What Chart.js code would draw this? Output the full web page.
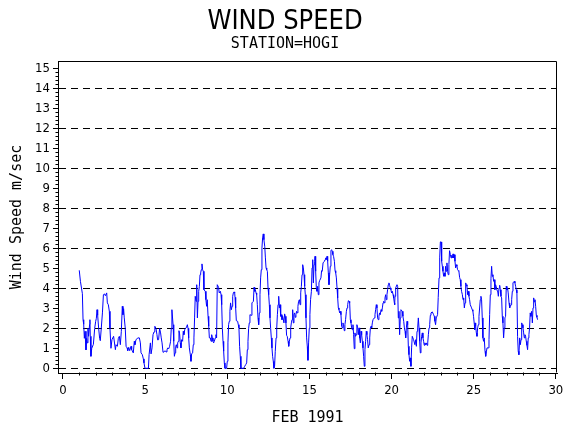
<!DOCTYPE html>
<html>
<head>
<meta charset="utf-8">
<title>Wind Speed - HOGI</title>
<script src="https://cdn.jsdelivr.net/npm/chart.js@4.4.1/dist/chart.umd.min.js"></script>
<style>
  html, body { margin: 0; padding: 0; background: #fff; }
</style>
</head>
<body>
<canvas id="myChart" width="570" height="430"></canvas>
<script>
// day of month (fractional, hourly readings) for February 1991
const febDay = [
  0.99, 1.06, 1.18, 1.22, 1.26, 1.30, 1.34, 1.40, 1.44, 1.48,
  1.52, 1.56, 1.62, 1.64, 1.66, 1.70, 1.75, 1.85, 1.93, 1.99,
  2.03, 2.07, 2.11, 2.17, 2.23, 2.27, 2.33, 2.40, 2.46, 2.52,
  2.58, 2.66, 2.70, 2.76, 2.82, 2.86, 2.92, 2.98, 3.08, 3.19,
  3.23, 3.31, 3.37, 3.43, 3.49, 3.55, 3.61, 3.65, 3.69, 3.73,
  3.79, 3.84, 3.90, 3.94, 4.00, 4.06, 4.14, 4.18, 4.28, 4.34,
  4.38, 4.44, 4.55, 4.65, 4.71, 4.75, 4.83, 4.89, 4.93, 4.99,
  5.20, 5.24, 5.32, 5.36, 5.42, 5.48, 5.54, 5.58,
  5.60, 5.66, 5.72, 5.76, 5.82, 5.88, 5.94, 5.98, 6.03, 6.09,
  6.15, 6.21, 6.27, 6.33, 6.37, 6.43, 6.49, 6.55, 6.59, 6.63,
  6.70, 6.74, 6.78, 6.82, 6.86, 6.90, 6.94, 6.98, 7.02, 7.06,
  7.10, 7.14, 7.18, 7.22, 7.28, 7.32, 7.36, 7.41, 7.45, 7.51,
  7.57, 7.61, 7.65, 7.69, 7.75, 7.79, 7.83, 7.89, 7.93, 7.97,
  8.01, 8.05, 8.10, 8.14, 8.18, 8.22, 8.26, 8.30, 8.34, 8.38,
  8.42, 8.46, 8.50, 8.54, 8.58, 8.66, 8.70, 8.74, 8.78, 8.83,
  8.87, 8.91, 8.97, 9.01, 9.05, 9.09, 9.13, 9.17, 9.21, 9.27,
  9.31, 9.35, 9.39, 9.43, 9.47, 9.51, 9.58, 9.62, 9.66, 9.70,
  9.74, 9.78, 9.82, 9.86, 9.96, 10.00, 10.04, 10.08, 10.12, 10.16,
  10.20, 10.25, 10.29, 10.33, 10.37, 10.41, 10.45,
  10.47, 10.51, 10.55, 10.63, 10.67, 10.71, 10.75, 10.79, 10.83, 11.00,
  11.06, 11.12, 11.18, 11.22, 11.26, 11.30, 11.34, 11.38, 11.46, 11.50,
  11.59, 11.63, 11.67, 11.71, 11.75, 11.79, 11.83, 11.87, 11.91, 11.95,
  11.99, 12.03, 12.07, 12.11, 12.15, 12.19, 12.23, 12.28, 12.32, 12.36,
  12.40, 12.44, 12.48, 12.52, 12.56, 12.60, 12.64, 12.68, 12.72, 12.76,
  12.80, 12.84, 12.88, 12.92, 12.97, 13.01, 13.05, 13.09, 13.13, 13.17,
  13.21, 13.25, 13.29, 13.33, 13.37, 13.45, 13.49, 13.53, 13.57, 13.61,
  13.65, 13.70, 13.74, 13.78, 13.82, 13.86, 13.90, 13.94, 13.98, 14.02,
  14.06, 14.10, 14.14, 14.18, 14.22, 14.26, 14.30, 14.34, 14.39, 14.43,
  14.47, 14.51, 14.55, 14.59, 14.63, 14.67, 14.71, 14.75, 14.79, 14.83,
  14.87, 14.91, 14.95, 14.99, 15.03, 15.07, 15.12, 15.16, 15.20, 15.24,
  15.28, 15.32,
  15.34, 15.38, 15.42, 15.46, 15.50, 15.54, 15.58, 15.62, 15.70, 15.74,
  15.78, 15.83, 15.91, 15.95, 15.99, 16.03, 16.07, 16.11, 16.15, 16.19,
  16.23, 16.27, 16.31, 16.35, 16.39, 16.43, 16.47, 16.52, 16.56, 16.60,
  16.64, 16.68, 16.72, 16.76, 16.80, 16.84, 16.88, 16.92, 16.96, 17.00,
  17.04, 17.08, 17.12, 17.16, 17.20, 17.25, 17.29, 17.33, 17.37, 17.41,
  17.45, 17.49, 17.53, 17.57, 17.61, 17.65, 17.69, 17.73, 17.77, 17.81,
  17.85, 17.89, 17.94, 17.98, 18.02, 18.06, 18.10, 18.14, 18.18, 18.22,
  18.26, 18.30, 18.34, 18.38, 18.42, 18.46, 18.50, 18.54, 18.58, 18.63,
  18.67, 18.71, 18.75, 18.79, 18.83, 18.87, 18.95, 18.99, 19.03, 19.07,
  19.11, 19.15, 19.19, 19.23, 19.27, 19.31, 19.36, 19.40, 19.44, 19.48,
  19.52, 19.56, 19.60, 19.64, 19.68, 19.72, 19.76, 19.80, 19.84, 19.88,
  19.92, 19.96, 20.00, 20.05, 20.09, 20.13, 20.17, 20.19,
  20.21, 20.25, 20.33, 20.37, 20.41, 20.45, 20.49, 20.53, 20.57, 20.65,
  20.69, 20.74, 20.78, 20.82, 20.86, 20.90, 20.94, 20.98, 21.02, 21.06,
  21.10, 21.14, 21.18, 21.22, 21.26, 21.34, 21.42, 21.47, 21.51, 21.55,
  21.59, 21.63, 21.67, 21.71, 21.75, 21.79, 21.83, 21.87, 21.91, 21.95,
  21.99, 22.03, 22.07, 22.11, 22.16, 22.20, 22.24, 22.28, 22.32, 22.36,
  22.40, 22.48, 22.56, 22.60, 22.64, 22.68, 22.72, 22.80, 22.84, 22.89,
  22.93, 22.97, 23.01, 23.05, 23.09, 23.13, 23.17, 23.21, 23.25, 23.29,
  23.33, 23.37, 23.41, 23.45, 23.49, 23.53, 23.58, 23.62, 23.66, 23.70,
  23.74, 23.78, 23.82, 23.86, 23.90, 23.94, 23.98, 24.02, 24.06, 24.10,
  24.14, 24.18, 24.22, 24.26, 24.31, 24.35, 24.39, 24.43, 24.47, 24.51,
  24.55, 24.59, 24.63, 24.67, 24.71, 24.75, 24.79, 24.87, 24.91, 24.95,
  24.99, 25.04, 25.06,
  25.08, 25.12, 25.16, 25.20, 25.24, 25.28, 25.32, 25.40, 25.44, 25.48,
  25.52, 25.56, 25.60, 25.64, 25.69, 25.73, 25.77, 25.81, 25.89, 25.93,
  25.97, 26.01, 26.05, 26.09, 26.13, 26.17, 26.21, 26.25, 26.29, 26.33,
  26.37, 26.42, 26.46, 26.50, 26.54, 26.58, 26.62, 26.66, 26.70, 26.74,
  26.78, 26.82, 26.86, 26.90, 26.94, 26.98, 27.02, 27.06, 27.10, 27.15,
  27.19, 27.23, 27.27, 27.31, 27.35, 27.39, 27.47, 27.51, 27.55, 27.59,
  27.63, 27.67, 27.71, 27.75, 27.80, 27.84, 27.88, 27.92, 27.96, 28.00,
  28.04, 28.08, 28.12, 28.16, 28.20, 28.24, 28.28, 28.32, 28.36, 28.40,
  28.44, 28.48, 28.53, 28.57, 28.61, 28.65, 28.69, 28.73, 28.77, 28.81,
  28.85, 28.89
];

// wind speed in m/sec, same order as febDay
const windSpeed = [
  4.9, 4.35, 3.73, 2.43, 2.2, 1.5, 1.85, 0.92, 1.5, 1.27,
  2.0, 1.6, 2.2, 2.43, 1.6, 0.6, 1.0, 1.2, 2.0, 2.35,
  2.5, 2.93, 2.65, 2.0, 1.5, 1.38, 2.0, 2.77, 3.68, 3.72,
  3.63, 3.77, 3.27, 3.18, 2.85, 2.0, 1.0, 1.43, 1.6, 0.93,
  1.18, 1.1, 1.5, 1.6, 1.18, 1.85, 3.1, 2.68, 2.98, 2.52,
  2.0, 1.1, 1.02, 0.88, 1.05, 0.88, 1.1, 0.93, 0.77, 1.35,
  1.18, 1.42, 1.52, 1.52, 1.27, 0.77, 0.68, 0.47, 0.27, 0,
  0, 0.68, 1.27, 0.72, 1.02, 1.68, 1.82, 2.0,
  2.1, 2.0, 1.68, 1.42, 1.43, 2.0, 1.77, 1.52, 1.27, 0.8,
  0.82, 0.88, 0.82, 0.92, 1.02, 0.97, 1.1, 1.35, 2.0, 2.93,
  2.18, 1.35, 0.6, 0.77, 1.1, 1.18, 1.02, 1.27, 1.35, 1.88,
  1.72, 1.27, 1.02, 1.43, 1.35, 1.85, 1.68, 1.93, 2.0, 2.03,
  2.18, 2.0, 1.52, 1.02, 0.68, 0.35, 0.72, 0.77, 1.18, 1.52,
  2.52, 3.6, 3.35, 4.18, 2.52, 3.35, 3.85, 4.1, 4.68, 4.77,
  4.93, 5.22, 4.93, 4.85, 3.93, 3.85, 3.43, 3.1, 3.43, 2.6,
  2.1, 1.52, 1.52, 1.35, 1.68, 1.52, 1.35, 1.27, 1.35, 1.52,
  1.68, 1.52, 4.18, 4.18, 4.05, 3.77, 3.85, 3.68, 3.18, 2.0,
  1.35, 0.85, 0.27, 0, 0, 0.35, 1.27, 2.18, 2.35, 2.85,
  3.27, 2.93, 3.1, 3.6, 3.77, 3.82, 3.77,
  3.55, 3.02, 2.38, 2.35, 2.18, 2.02, 1.1, 0.6, 0, 0,
  0.1, 0.18, 0.27, 0.93, 1.35, 2.0, 2.27, 2.68, 2.65, 3.27,
  3.35, 4.05, 3.85, 3.93, 3.77, 3.68, 3.18, 2.52, 2.18, 2.77,
  3.68, 4.52, 4.93, 6.02, 6.52, 6.72, 6.43, 6.1, 5.52, 5.02,
  4.93, 4.85, 4.02, 3.68, 3.18, 2.52, 2.0, 1.52, 1.02, 0.6,
  0.35, 0, 0.1, 0.85, 1.52, 2.0, 2.68, 3.18, 3.6, 3.02,
  3.18, 2.6, 2.68, 2.43, 2.6, 2.27, 2.72, 2.6, 2.27, 1.65,
  1.6, 1.35, 1.1, 1.35, 1.52, 2.02, 2.27, 2.43, 2.93, 2.27,
  2.68, 2.77, 2.55, 2.68, 2.85, 2.77, 3.1, 3.35, 3.43, 3.18,
  3.77, 4.1, 4.68, 5.18, 5.02, 4.68, 4.1, 3.68, 2.52, 1.52,
  1.1, 0.4, 1.27, 2.0, 2.68, 3.43, 3.85, 5.02, 5.43, 4.27,
  5.18, 5.35,
  5.6, 4.85, 4.02, 3.85, 4.1, 3.68, 4.27, 4.38, 4.52, 4.88,
  4.85, 5.27, 5.35, 5.43, 5.52, 5.43, 5.6, 5.35, 4.77, 4.18,
  4.68, 5.1, 5.88, 5.93, 5.85, 5.68, 5.6, 5.35, 4.88, 4.77,
  4.52, 4.02, 3.52, 3.02, 2.93, 2.77, 2.85, 2.68, 2.1, 2.02,
  2.27, 2.18, 1.88, 2.18, 2.43, 2.85, 3.02, 3.18, 3.38, 3.35,
  3.27, 2.43, 2.27, 2.02, 1.93, 2.18, 1.68, 0.98, 1.77, 1.6,
  1.68, 2.18, 2.02, 1.68, 2.02, 1.52, 1.27, 1.85, 1.68, 1.35,
  1.02, 0.6, 0.1, 0.93, 1.35, 1.85, 1.68, 1.43, 1.02, 1.18,
  1.52, 2.02, 2.1, 2.02, 2.27, 2.43, 2.52, 2.68, 2.93, 3.18,
  3.02, 2.52, 2.43, 2.6, 2.77, 2.68, 2.93, 2.85, 3.02, 3.27,
  3.35, 3.27, 3.52, 3.68, 3.43, 3.68, 3.93, 4.18, 4.27, 4.15,
  4.02, 3.93, 3.77, 3.85, 3.68, 3.52, 3.27, 3.18,
  3.6, 4.02, 4.18, 4.1, 2.52, 2.85, 1.68, 2.52, 2.93, 2.85,
  2.6, 2.35, 2.02, 1.85, 1.52, 2.02, 2.35, 2.18, 1.1, 0.68,
  0.35, 0.52, 0.1, 1.02, 1.6, 1.43, 1.18, 1.43, 1.1, 1.85,
  2.02, 2.52, 2.02, 1.35, 0.77, 1.27, 1.6, 1.77, 1.52, 1.35,
  1.15, 1.27, 1.18, 1.27, 1.15, 1.27, 1.68, 2.02, 2.18, 2.65,
  2.77, 2.82, 2.68, 2.6, 2.35, 2.18, 2.52, 2.68, 3.55, 4.52,
  5.52, 6.32, 6.32, 5.35, 5.1, 4.85, 4.6, 4.77, 4.6, 5.1,
  4.85, 5.27, 4.85, 4.68, 5.18, 5.88, 5.68, 5.52, 5.65, 5.52,
  5.72, 5.52, 5.68, 5.35, 5.02, 5.18, 5.1, 4.93, 4.88, 4.85,
  4.55, 4.43, 4.1, 3.85, 3.68, 3.43, 3.52, 3.02, 3.27, 4.27,
  4.18, 4.1, 3.68, 3.85, 3.6, 3.43, 3.18, 3.02, 2.93, 2.85,
  2.6, 2.18, 1.93,
  2.27, 2.1, 1.77, 1.6, 2.02, 2.18, 2.6, 3.43, 3.6, 3.43,
  2.52, 1.52, 1.35, 1.52, 0.85, 0.6, 0.82, 1.02, 1.02, 1.43,
  2.68, 3.68, 4.48, 5.1, 4.6, 4.68, 4.35, 4.43, 3.93, 4.18,
  4.1, 3.88, 3.85, 3.6, 4.02, 4.15, 3.93, 3.6, 3.52, 2.6,
  2.27, 1.52, 2.02, 2.52, 2.6, 4.1, 3.93, 4.02, 3.77, 3.27,
  3.02, 3.1, 3.18, 3.43, 3.85, 4.27, 4.35, 4.27, 4.1, 3.93,
  3.77, 1.6, 0.85, 0.68, 1.52, 1.18, 1.43, 2.27, 2.18, 2.02,
  1.77, 1.52, 1.68, 1.6, 1.35, 1.15, 0.93, 1.52, 1.68, 2.02,
  2.77, 2.6, 2.85, 2.27, 3.02, 3.52, 3.32, 3.43, 3.1, 2.65,
  2.55, 2.43
];

// axis texts
const chartTitle = 'WIND SPEED';
const chartSubtitle = 'STATION=HOGI';
const xAxisTitle = 'FEB 1991';
const yAxisTitle = 'Wind Speed m/sec';

if (febDay.length != windSpeed.length) {
  console.log('length mismatch', febDay.length, windSpeed.length);
}

// pair up days and speeds for the linear x axis
let points = [];
for (let i = 0; i < febDay.length; i++) {
  points.push({x: febDay[i], y: windSpeed[i]});
}

const monoFont = "'DejaVu Sans Mono', monospace";
const narrowFont = "'DejaVu Sans Condensed', 'Liberation Sans', sans-serif";

// frame on top/right plus the small minor ticks on both axes
const frameAndMinorTicks = {
  id: 'frameAndMinorTicks',
  afterDraw(chart) {
    const ctx = chart.ctx;
    const area = chart.chartArea;
    const xs = chart.scales.x;
    const ys = chart.scales.y;
    const L = Math.round(area.left) + 0.5;
    const R = Math.round(area.right) - 0.5;
    const T = Math.round(area.top) + 0.5;
    const B = Math.round(area.bottom) - 0.5;
    ctx.save();
    ctx.strokeStyle = '#000';
    ctx.lineWidth = 1;
    ctx.setLineDash([]);
    ctx.beginPath();
    ctx.moveTo(L, T);
    ctx.lineTo(R, T);
    ctx.lineTo(R, B);
    // minor y ticks every 0.2
    for (let k = 1; k < 75; k++) {
      if (k % 5 == 0) continue;
      const py = Math.round(ys.getPixelForValue(k / 5)) + 0.5;
      ctx.moveTo(L, py);
      ctx.lineTo(L - 3, py);
    }
    // minor x ticks every day
    for (let d = 1; d < 30; d++) {
      if (d % 5 == 0) continue;
      const px = Math.round(xs.getPixelForValue(d)) + 0.5;
      ctx.moveTo(px, B);
      ctx.lineTo(px, B + 3);
    }
    ctx.stroke();
    ctx.restore();
  }
};

const config = {
  type: 'line',
  data: {
    datasets: [{
      label: 'Wind Speed',
      data: points,
      borderColor: 'rgb(0, 0, 255)',
      borderWidth: 1,
      pointRadius: 0,
      tension: 0,
      fill: false
    }]
  },
  options: {
    responsive: false,
    animation: false,
    devicePixelRatio: 1,
    // equal side padding keeps the titles centred on the page
    layout: { padding: { left: 13, right: 13, top: 0, bottom: 0 } },
    plugins: {
      legend: { display: false },
      tooltip: { enabled: false },
      title: {
        display: true,
        text: chartTitle,
        color: '#000',
        font: { family: narrowFont, size: 27, weight: 'normal', lineHeight: 1 },
        padding: { top: 8, bottom: 0 }
      },
      subtitle: {
        display: true,
        text: chartSubtitle,
        color: '#000',
        font: { family: monoFont, size: 15, weight: 'normal', lineHeight: 1 },
        padding: { top: 2, bottom: 9 }
      }
    },
    scales: {
      x: {
        type: 'linear',
        min: -0.304,
        max: 30.07,
        ticks: {
          stepSize: 5,
          includeBounds: false,
          maxRotation: 0,
          color: '#000',
          padding: 4,
          font: { family: narrowFont, size: 13 }
        },
        grid: { drawOnChartArea: false, tickLength: 6, tickColor: '#000', tickWidth: 1 },
        border: { color: '#000', width: 1 },
        title: {
          display: true,
          text: xAxisTitle,
          color: '#000',
          font: { family: monoFont, size: 15 },
          padding: { top: 0, bottom: 3 }
        },
        afterFit: function(scale) { scale.height = 57; }
      },
      y: {
        type: 'linear',
        min: -0.235,
        max: 15.365,
        ticks: {
          stepSize: 1,
          includeBounds: false,
          autoSkip: false,
          color: '#000',
          padding: 3,
          font: { family: narrowFont, size: 13 }
        },
        grid: {
          // dashed reference lines on every even value only
          color: function(c) {
            if (c.tick && c.tick.value % 2 == 0) return '#000';
            return 'rgba(0,0,0,0)';
          },
          lineWidth: 1,
          tickLength: 5,
          tickColor: '#000',
          tickWidth: 1
        },
        border: { color: '#000', width: 1, dash: [7, 5] },
        title: {
          display: true,
          text: yAxisTitle,
          color: '#000',
          font: { family: monoFont, size: 15 },
          padding: { top: -5, bottom: 0 }
        },
        afterFit: function(scale) { scale.width = 45; }
      }
    }
  },
  plugins: [frameAndMinorTicks]
};

const myChart = new Chart(document.getElementById('myChart'), config);
</script>
</body>
</html>
